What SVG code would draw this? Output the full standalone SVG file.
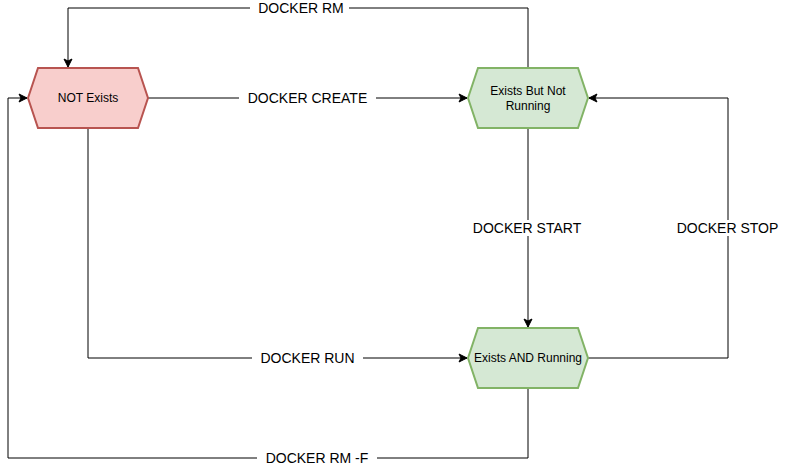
<svg xmlns="http://www.w3.org/2000/svg" width="786" height="467" viewBox="0 0 786 467">
<style>
.edge{fill:none;stroke:#000;stroke-width:1;marker-end:url(#arr)}
.lbl{font-family:"Liberation Sans",Arial,sans-serif;font-size:14px;fill:#000;text-anchor:middle;dominant-baseline:central}
.bg{fill:#fff}
.nt{font-family:"Liberation Sans",Arial,sans-serif;font-size:12px;fill:#000;text-anchor:middle;dominant-baseline:central}
.red{fill:#f8cecc;stroke:#b85450;stroke-width:2}
.green{fill:#d5e8d4;stroke:#82b366;stroke-width:2}
</style>
<defs>
<marker id="arr" viewBox="0 0 10 10" refX="9" refY="5" markerWidth="10" markerHeight="10" markerUnits="userSpaceOnUse" orient="auto">
<path d="M1,1 L9,5 L1,9 L3,5 z" fill="#000" stroke="#000" stroke-width="1"/>
</marker>
</defs>
<rect width="786" height="467" fill="#fff"/>
<g id="connectors">
<g id="e-rm"><path class="edge" d="M528,68 V8 H68 V67"/><rect class="bg" x="250" y="0" width="99" height="16"/><text class="lbl" x="301" y="8">DOCKER RM</text></g>
<g id="e-create"><path class="edge" d="M148,98 H467"/><rect class="bg" x="239" y="90" width="137" height="16"/><text class="lbl" x="307.5" y="98">DOCKER CREATE</text></g>
<g id="e-start"><path class="edge" d="M528,128 V327"/><rect class="bg" x="472" y="220" width="111" height="16"/><text class="lbl" x="527" y="228">DOCKER START</text></g>
<g id="e-stop"><path class="edge" d="M588,358 H728 V98 H589"/><rect class="bg" x="676" y="220" width="104" height="16"/><text class="lbl" x="727.5" y="228">DOCKER STOP</text></g>
<g id="e-run"><path class="edge" d="M88,128 V358 H467"/><rect class="bg" x="252" y="350" width="111" height="16"/><text class="lbl" x="307.5" y="358">DOCKER RUN</text></g>
<g id="e-rmf"><path class="edge" d="M528,388 V458 H8 V98 H27"/><rect class="bg" x="257" y="450" width="120" height="16"/><text class="lbl" x="317" y="458">DOCKER RM -F</text></g>
</g>
<g id="n-not-exists"><polygon class="red" points="28,98 38,68 138,68 148,98 138,128 38,128"/><text class="nt" x="88" y="98">NOT Exists</text></g>
<g id="n-exists-not-running"><polygon class="green" points="468,98 478,68 578,68 588,98 578,128 478,128"/><text class="nt" x="528" y="91">Exists But Not</text><text class="nt" x="528" y="106">Running</text></g>
<g id="n-exists-running"><polygon class="green" points="468,358 478,328 578,328 588,358 578,388 478,388"/><text class="nt" x="528" y="358">Exists AND Running</text></g>
</svg>
